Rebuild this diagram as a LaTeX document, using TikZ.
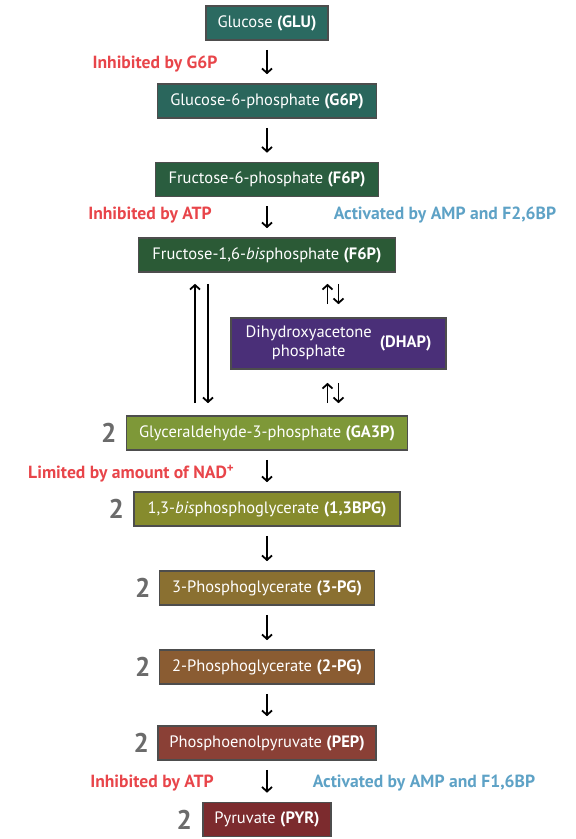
\documentclass[tikz,border=0pt]{standalone}
\usepackage{fontspec}
\setmainfont{PT Sans}
\usetikzlibrary{arrows.meta, positioning}
\definecolor{gluc}{HTML}{2B6A61}
\definecolor{gsixc}{HTML}{2A665C}
\definecolor{fsixc}{HTML}{2A5D3F}
\definecolor{fbpc}{HTML}{2B5A36}
\definecolor{dhapc}{HTML}{4A2F78}
\definecolor{gapc}{HTML}{7E9838}
\definecolor{bpgc}{HTML}{868B2D}
\definecolor{tpgc}{HTML}{8A7031}
\definecolor{twopgc}{HTML}{8A5C32}
\definecolor{pepc}{HTML}{8A4036}
\definecolor{pyrc}{HTML}{7C2B2E}
\definecolor{inhc}{HTML}{E8454A}
\definecolor{actc}{HTML}{5EA2C6}
\definecolor{twoc}{HTML}{6B6B6B}
\definecolor{edgec}{HTML}{4D4D4D}
\tikzset{
  box/.style={draw=edgec, line width=1.6pt, text=white, font=\fontsize{16.5}{19}\selectfont,
              minimum height=34pt, inner sep=2pt, align=center},
  flow/.style={-{Straight Barb[length=4.5pt,width=10pt]}, line width=1.8pt, shorten <=9pt, shorten >=9pt},
  inh/.style={text=inhc, font=\bfseries\fontsize{17.6}{19}\selectfont, inner sep=1pt},
  act/.style={text=actc, font=\bfseries\fontsize{17.6}{19}\selectfont, inner sep=1pt},
  two/.style={text=twoc, font=\bfseries\fontsize{27}{28}\selectfont, inner sep=0pt},
}

\begin{document}
\begin{tikzpicture}[x=1pt, y=-1pt]
\useasboundingbox (0,0) rectangle (576,839);

% the boxes of the pathway
\node[box, fill=gluc, minimum width=122pt] (glu) at (267,23) {Glucose \textbf{(GLU)}};
\node[box, fill=gsixc, minimum width=219pt] (gsixp) at (267,101) {Glucose-6-phosphate \textbf{(G6P)}};
\node[box, fill=fsixc, minimum width=223pt] (fsixp) at (267,179.5) {Fructose-6-phosphate \textbf{(F6P)}};
\node[box, fill=fbpc, minimum width=257pt] (fbp) at (267,255) {Fructose-1,6-\textit{bis}phosphate \textbf{(F6P)}};
\node[box, fill=dhapc, minimum width=215pt, minimum height=51pt] (dhap) at (338.5,343.5)
  {\begin{tabular}{@{}c@{}}Dihydroxyacetone\\phosphate\end{tabular}\hspace{8pt}\textbf{(DHAP)}};
\node[box, fill=gapc, minimum width=281pt] (gap) at (267,433) {Glyceraldehyde-3-phosphate \textbf{(GA3P)}};
\node[box, fill=bpgc, minimum width=266pt] (bpg) at (267,509) {1,3-\textit{bis}phosphoglycerate \textbf{(1,3BPG)}};
\node[box, fill=tpgc, minimum width=215pt] (tpg) at (267,588) {3-Phosphoglycerate \textbf{(3-PG)}};
\node[box, fill=twopgc, minimum width=215pt] (twopg) at (267,667) {2-Phosphoglycerate \textbf{(2-PG)}};
\node[box, fill=pepc, minimum width=218pt] (pep) at (267,743) {Phosphoenolpyruvate \textbf{(PEP)}};
\node[box, fill=pyrc, minimum width=128pt] (pyr) at (267,819.5) {Pyruvate \textbf{(PYR)}};

% two of each from here on
\node[two, left=9pt of gap] (ngap) {2};
\node[two, left=9pt of bpg] (nbpg) {2};
\node[two, left=8pt of tpg] (ntpg) {2};
\node[two, left=8pt of twopg] (ntwopg) {2};
\node[two, left=8pt of pep] (npep) {2};
\node[two, left=10pt of pyr] (npyr) {2};

% steps
\draw[flow] (glu) -- (gsixp);
\draw[flow] (gsixp) -- (fsixp);
\draw[flow] (fsixp) -- (fbp);
\draw[flow] (gap) -- (bpg);
\draw[flow] (bpg) -- (tpg);
\draw[flow] (tpg) -- (twopg);
\draw[flow] (twopg) -- (pep);
\draw[flow] (pep) -- (pyr);

% splitting of the bisphosphate, both ways
\draw[flow, shorten <=12pt, shorten >=11pt] ([xshift=-72pt]gap.north) -- ([xshift=-72pt]fbp.south);
\draw[flow, shorten <=11pt, shorten >=12pt] ([xshift=-59pt]fbp.south) -- ([xshift=-59pt]gap.north);
\draw[flow, shorten <=13pt, shorten >=11pt] ([xshift=-11pt]dhap.north) -- ([xshift=-11pt]dhap.north |- fbp.south);
\draw[flow, shorten <=11pt, shorten >=13pt] (dhap.north |- fbp.south) -- (dhap.north);
\draw[flow, shorten <=12pt, shorten >=13pt] ([xshift=-11pt]dhap.south |- gap.north) -- ([xshift=-11pt]dhap.south);
\draw[flow, shorten <=13pt, shorten >=12pt] (dhap.south) -- (dhap.south |- gap.north);

% regulation
\node[inh] (ihk) at (155,64) {Inhibited by G6P};
\node[inh] (ipfk) at (150,215) {Inhibited by ATP};
\node[act] (apfk) at (445,215) {Activated by AMP and F2,6BP};
\node[inh] (lgapdh) at (131,474) {Limited by amount of NAD\raisebox{6pt}{\fontsize{13}{13}\selectfont +}};
\node[inh] (ipk) at (152,783) {Inhibited by ATP};
\node[act] (apk) at (424,783) {Activated by AMP and F1,6BP};
\end{tikzpicture}
\end{document}
